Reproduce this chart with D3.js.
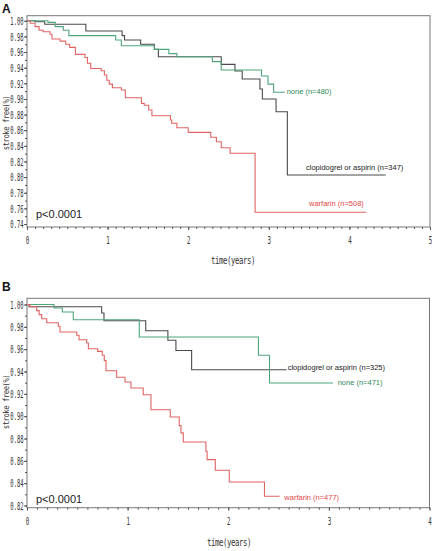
<!DOCTYPE html>
<html><head><meta charset="utf-8">
<script src="https://cdn.jsdelivr.net/npm/d3@7/dist/d3.min.js"></script>
<style>
body{margin:0;background:#fff;}
svg{display:block;font-family:"Liberation Sans",Arial,sans-serif;}
</style></head>
<body><svg id="c" width="432" height="551"></svg>
<script>
// ---------- DATA ----------
// Panel A
const tA_clop = [0, 0.10, 0.22, 0.73, 1.18, 1.21, 1.41, 1.58, 1.63, 2.41, 2.58, 2.67, 2.89, 2.92, 3.09, 3.23, 4.45];
const sA_clop = [1, 0.9988, 0.9955, 0.987, 0.981, 0.9754, 0.970, 0.9635, 0.954, 0.9443, 0.9358, 0.9255, 0.9127, 0.900, 0.8837, 0.8027, 0.8027];
const tA_none = [0, 0.26, 0.35, 0.45, 0.52, 1.10, 1.17, 1.58, 1.76, 1.86, 2.30, 2.41, 2.91, 2.99, 3.06, 3.20];
const sA_none = [1, 0.998, 0.9925, 0.988, 0.981, 0.9754, 0.968, 0.9635, 0.958, 0.954, 0.9477, 0.937, 0.9294, 0.919, 0.9085, 0.9085];
const tA_warf = [0, 0.04, 0.10, 0.15, 0.20, 0.285, 0.31, 0.41, 0.48, 0.53, 0.60, 0.72, 0.75, 0.79, 0.92, 0.96, 0.99, 1.02, 1.06, 1.17, 1.22, 1.42, 1.455, 1.51, 1.55, 1.78, 1.795, 1.86, 2.00, 2.28, 2.35, 2.41, 2.52, 2.83, 4.21];
const sA_warf = [1, 0.9968, 0.9925, 0.988, 0.986, 0.9827, 0.9767, 0.974, 0.970, 0.966, 0.957, 0.953, 0.9456, 0.939, 0.936, 0.9306, 0.924, 0.919, 0.9144, 0.9115, 0.9016, 0.8944, 0.892, 0.8859, 0.8786, 0.873, 0.869, 0.8632, 0.8573, 0.851, 0.8453, 0.8376, 0.8305, 0.755, 0.755];
// Panel B
const tB_clop = [0, 0.02, 0.742, 0.765, 1.18, 1.40, 1.48, 1.636, 2.58];
const sB_clop = [1, 0.998, 0.9924, 0.9855, 0.9765, 0.968, 0.9588, 0.9416, 0.9416];
const tB_none = [0, 0.268, 0.351, 0.46, 1.116, 2.30, 2.41, 3.04];
const sB_none = [1, 0.9969, 0.9933, 0.9864, 0.9709, 0.9545, 0.9297, 0.9297];
const tB_warf = [0, 0.03, 0.096, 0.12, 0.146, 0.196, 0.311, 0.328, 0.494, 0.517, 0.593, 0.61, 0.702, 0.748, 0.768, 0.785, 0.891, 0.974, 1.033, 1.155, 1.232, 1.424, 1.513, 1.53, 1.553, 1.778, 1.79, 1.871, 2.01, 2.36, 2.51];
const sB_warf = [1, 0.998, 0.9945, 0.9909, 0.9873, 0.9837, 0.9805, 0.9754, 0.9724, 0.9685, 0.9655, 0.9604, 0.958, 0.9545, 0.9497, 0.9407, 0.9348, 0.9306, 0.9252, 0.9192, 0.9058, 0.8993, 0.8915, 0.885, 0.8769, 0.8686, 0.8611, 0.8516, 0.8411, 0.8283, 0.8283];

const yTicksA = [0.74,0.76,0.78,0.80,0.82,0.84,0.86,0.88,0.90,0.92,0.94,0.96,0.98,1.00];
const yTicksB = [0.82,0.84,0.86,0.88,0.90,0.92,0.94,0.96,0.98,1.00];
const xTicksA = [0,1,2,3,4,5];
const xTicksB = [0,1,2,3,4];
const labelsA = ["none (n=480)", "clopidogrel or aspirin (n=347)", "warfarin (n=508)"];
const labelsB = ["clopidogrel or aspirin (n=325)", "none (n=471)", "warfarin (n=477)"];
const pText = "p<0.0001";
const yTitle = "stroke free(%)";
const xTitle = "time(years)";

// ---------- STYLE ----------
const COL = {clop:"#4a4a4a", none:"#4fa57c", warf:"#e06464"};
const TXT = {clop:"#222", none:"#2e8b57", warf:"#e04848"};

const svg = d3.select("#c");

function zip(t,s){ return t.map((v,i)=>[v,s[i]]); }

function panel(cfg){
  const g = svg.append("g");
  const x = d3.scaleLinear().domain(cfg.xDom).range([cfg.x0, cfg.x1]);
  const y = d3.scaleLinear().domain(cfg.yDom).range([cfg.yLo, cfg.yHi]);
  // box
  g.append("rect").attr("x",cfg.x0).attr("y",cfg.top).attr("width",cfg.x1-cfg.x0).attr("height",cfg.bottom-cfg.top)
    .attr("fill","none").attr("stroke","#777").attr("stroke-width",1);
  // y minor ticks
  const yMinor = d3.range(cfg.yTicks[0], 1.0001, cfg.yMinorStep);
  g.append("g").attr("transform",`translate(${cfg.x0},0)`)
    .call(d3.axisLeft(y).tickValues(yMinor).tickSize(2).tickFormat(""))
    .call(a=>{a.select(".domain").remove(); a.selectAll("line").attr("stroke","#555");});
  const ya = g.append("g").attr("transform",`translate(${cfg.x0},0)`)
    .call(d3.axisLeft(y).tickValues(cfg.yTicks).tickSize(3).tickFormat(d3.format(".2f")));
  ya.select(".domain").remove();
  ya.selectAll("line").attr("stroke","#555");
  ya.selectAll("text").attr("x",0).attr("dy",null).attr("dominant-baseline","central")
    .attr("transform","translate(-3.5,0) scale(0.52,1)")
    .attr("font-size",10.5).attr("fill","#333").attr("font-family","'DejaVu Sans Mono',monospace");
  // x minor ticks
  const xMinor = d3.range(0, cfg.xDom[1]+0.0001, 0.1);
  g.append("g").attr("transform",`translate(0,${cfg.bottom})`)
    .call(d3.axisBottom(x).tickValues(xMinor).tickSize(2).tickFormat(""))
    .call(a=>{a.select(".domain").remove(); a.selectAll("line").attr("stroke","#555");});
  const xa = g.append("g").attr("transform",`translate(0,${cfg.bottom})`)
    .call(d3.axisBottom(x).tickValues(cfg.xTicks).tickSize(3).tickFormat(d3.format("d")));
  xa.select(".domain").remove();
  xa.selectAll("line").attr("stroke","#555");
  xa.selectAll("text").attr("y",0).attr("dy",null).attr("dominant-baseline","central")
    .attr("transform",`translate(0,${cfg.xLabY-cfg.bottom}) scale(0.55,1)`)
    .attr("font-size",10.5).attr("fill","#333").attr("font-family","'DejaVu Sans Mono',monospace");
  // curves
  const line = d3.line().x(d=>x(d[0])).y(d=>y(d[1])).curve(d3.curveStepAfter);
  cfg.series.forEach(sr=>{
    g.append("path").datum(zip(sr.t, sr.s)).attr("d",line)
      .attr("fill","none").attr("stroke",COL[sr.k]).attr("stroke-width",1.1);
  });
  // labels
  cfg.labels.forEach(l=>{
    g.append("text").attr("x",l.x).attr("y",l.y).text(l.text)
      .attr("font-size",7.5).attr("fill",TXT[l.k]);
  });
  g.append("text").attr("x",cfg.x0+9).attr("y",cfg.pY).text(pText).attr("font-size",11).attr("fill","#222");
  g.append("text").attr("x",2).attr("y",cfg.letterY).text(cfg.letter).attr("font-size",12).attr("font-weight","bold").attr("fill","#111");
  // axis titles
  g.append("text").attr("transform",`translate(${cfg.yTitleX},${cfg.yTitleY}) rotate(-90) scale(0.72,0.85)`)
    .attr("text-anchor","middle").attr("dominant-baseline","central").text(yTitle)
    .attr("font-size",10).attr("fill","#333").attr("font-family","'DejaVu Sans Mono',monospace").attr("letter-spacing",-0.6);
  g.append("text").attr("transform",`translate(${cfg.xTitleX},${cfg.xTitleY}) scale(0.7,1)`)
    .attr("text-anchor","middle").attr("dominant-baseline","central").text(xTitle)
    .attr("font-size",10.5).attr("fill","#333").attr("font-family","'DejaVu Sans Mono',monospace").attr("letter-spacing",-0.6);
}

panel({
  xDom:[0,5], x0:27, x1:430, yDom:[0.74,1.00], yLo:224, yHi:20.8, top:15.7, bottom:227,
  yTicks:yTicksA, yMinorStep:0.01, xTicks:xTicksA, xLabY:240,
  series:[{k:"clop",t:tA_clop,s:sA_clop},{k:"none",t:tA_none,s:sA_none},{k:"warf",t:tA_warf,s:sA_warf}],
  labels:[{k:"none",x:286.7,y:93.8,text:labelsA[0]},{k:"clop",x:306,y:169.5,text:labelsA[1]},{k:"warf",x:309,y:206,text:labelsA[2]}],
  pY:217.5, letter:"A", letterY:12.5, yTitleX:6, yTitleY:123, xTitleX:233, xTitleY:260.5
});
panel({
  xDom:[0,4], x0:27, x1:429.5, yDom:[0.82,1.00], yLo:505.5, yHi:304.5, top:298.3, bottom:507.7,
  yTicks:yTicksB, yMinorStep:0.01, xTicks:xTicksB, xLabY:521.5,
  series:[{k:"clop",t:tB_clop,s:sB_clop},{k:"none",t:tB_none,s:sB_none},{k:"warf",t:tB_warf,s:sB_warf}],
  labels:[{k:"clop",x:287.7,y:370,text:labelsB[0]},{k:"none",x:337.7,y:385,text:labelsB[1]},{k:"warf",x:284.3,y:499.5,text:labelsB[2]}],
  pY:503, letter:"B", letterY:290.5, yTitleX:6, yTitleY:402, xTitleX:229, xTitleY:542.5
});
</script></body></html>
